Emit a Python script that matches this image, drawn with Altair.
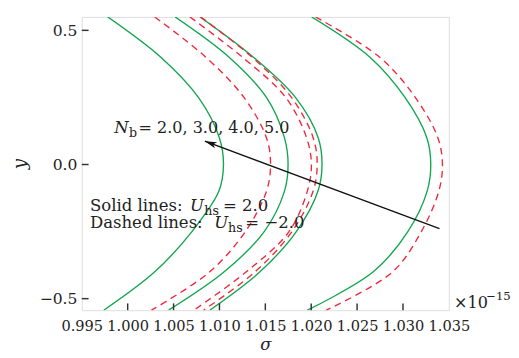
import altair as alt
import pandas as pd

# y sample levels (shared by all curves)
y_levels = [0.55, 0.4, 0.25, 0.1, 0.0, -0.1, -0.25, -0.4, -0.543]

# sigma (x 1e-15) for solid lines, U_hs = 2.0 (Nb = 5, 4, 3, 2 from left to right)
solid_nb5 = [0.99783, 1.00361, 1.00771, 1.00999, 1.01044, 1.00993, 1.00700, 1.00295, 0.99740]
solid_nb4 = [1.00517, 1.01105, 1.01512, 1.01708, 1.01748, 1.01708, 1.01488, 1.01052, 1.00446]
solid_nb3 = [1.00788, 1.01370, 1.01828, 1.02076, 1.02118, 1.02073, 1.01838, 1.01441, 1.00894]
solid_nb2 = [1.02005, 1.02640, 1.03022, 1.03260, 1.03303, 1.03263, 1.03053, 1.02676, 1.01959]

# sigma for dashed lines, U_hs = -2.0
dashed_nb5 = [1.00295, 1.00851, 1.01267, 1.01512, 1.01557, 1.01512, 1.01282, 1.00894, 1.00259]
dashed_nb4 = [1.00679, 1.01250, 1.01722, 1.01949, 1.02002, 1.01957, 1.01758, 1.01293, 1.00721]
dashed_nb3 = [1.00795, 1.01356, 1.01785, 1.02021, 1.02065, 1.02020, 1.01790, 1.01388, 1.00827]
dashed_nb2 = [1.02047, 1.02746, 1.03134, 1.03380, 1.03430, 1.03390, 1.03200, 1.02887, 1.02164]

x_ticks = [0.995, 1.000, 1.005, 1.010, 1.015, 1.020, 1.025, 1.030, 1.035]
y_ticks = [-0.5, 0.0, 0.5]

# arrow (tail -> head) in data units
arrow_x = [1.03398, 1.00841]
arrow_y = [-0.239, 0.087]

W, H = 378, 302
FONT = "DejaVu Serif"
GREEN = "#12a650"
RED = "#f0283c"
TXT = "#222222"

rows = []
for nb, s, d in [(2, solid_nb2, dashed_nb2), (3, solid_nb3, dashed_nb3),
                 (4, solid_nb4, dashed_nb4), (5, solid_nb5, dashed_nb5)]:
    for i, (yy, a, b) in enumerate(zip(y_levels, s, d)):
        rows.append({"Nb": nb, "U": 2.0, "i": i, "y": yy, "sigma": a})
        rows.append({"Nb": nb, "U": -2.0, "i": i, "y": yy, "sigma": b})
df = pd.DataFrame(rows)

xscale = alt.Scale(domain=[0.995, 1.035], nice=False, zero=False)
yscale = alt.Scale(domain=[-0.543, 0.55], nice=False, zero=False)

xaxis = alt.Axis(values=x_ticks, format=".3f", title="σ", grid=False, ticks=False, domain=False,
                 labelFont=FONT, labelFontSize=15, labelColor=TXT, labelPadding=9,
                 titleFont=FONT, titleFontSize=17, titleFontStyle="italic", titleFontWeight="normal",
                 titleColor=TXT, titlePadding=3, labelOverlap=False, labelFlush=False)
yaxis = alt.Axis(values=y_ticks, format=".1f", title="y", grid=False, ticks=False, domain=False,
                 labelFont=FONT, labelFontSize=16, labelColor=TXT, labelPadding=5,
                 titleFont=FONT, titleFontSize=19, titleFontStyle="italic", titleFontWeight="normal",
                 titleColor=TXT, titlePadding=10)

base = alt.Chart(df)
solid = base.transform_filter(alt.datum.U > 0).mark_line(
    color=GREEN, strokeWidth=1.4, interpolate="catmull-rom", clip=True
).encode(
    x=alt.X("sigma:Q", scale=xscale, axis=xaxis),
    y=alt.Y("y:Q", scale=yscale, axis=yaxis),
    detail="Nb:N",
    order="i:Q",
)
dashed = base.transform_filter(alt.datum.U < 0).mark_line(
    color=RED, strokeWidth=1.4, strokeDash=[7, 5], interpolate="catmull-rom", clip=True
).encode(
    x="sigma:Q", y="y:Q", detail="Nb:N", order="i:Q",
)

xt = alt.Chart(pd.DataFrame({"v": x_ticks[1:-1]})).mark_rule(color="#333", strokeWidth=1.5).encode(
    x="v:Q", y=alt.value(H), y2=alt.value(H - 7))
yt = alt.Chart(pd.DataFrame({"v": y_ticks})).mark_rule(color="#333", strokeWidth=1.5).encode(
    y="v:Q", x=alt.value(0), x2=alt.value(7))

arrow_df = pd.DataFrame({"x": [arrow_x[0]], "y": [arrow_y[0]], "x2": [arrow_x[1]], "y2": [arrow_y[1]]})
arrow_line = alt.Chart(arrow_df).mark_rule(color="#111", strokeWidth=1.3).encode(
    x="x:Q", y="y:Q", x2="x2:Q", y2="y2:Q")
arrow_head = alt.Chart(arrow_df).mark_point(
    shape="M0,0L0.55,2L0,1.5L-0.55,2Z", filled=True, color="#111", size=150, angle=290, opacity=1
).encode(x="x2:Q", y="y2:Q")


def label(text, px, py, size=17, italic=False):
    kw = dict(font=FONT, fontSize=size, color=TXT, align="left", baseline="alphabetic")
    if italic:
        kw["fontStyle"] = "italic"
    return alt.Chart(pd.DataFrame({"t": [text]})).mark_text(**kw).encode(
        x=alt.value(px), y=alt.value(py), text="t:N")


texts = [
    label("N", 33.4, 119.7, 17, True),
    label("b", 48.6, 123.7, 13),
    label("= 2.0, 3.0, 4.0, 5.0", 58.4, 119.7, 16.5),
    label("Solid lines:", 8.4, 199.7, 17),
    label("U", 111.4, 199.7, 17, True),
    label("hs", 126.2, 203.7, 13),
    label("= 2.0", 145.4, 199.7, 17),
    label("Dashed lines:", 8.4, 217.7, 17),
    label("U", 136.4, 217.7, 17, True),
    label("hs", 150.6, 221.7, 13),
    label("= −2.0", 168.4, 217.7, 17),
    label("×10", 383.4, 299.7, 16.5),
    label("−15", 416.4, 291.0, 12),
]

chart = alt.layer(solid, dashed, xt, yt, arrow_line, arrow_head, *texts).properties(
    width=W, height=H, padding={"left": 3, "top": 4, "right": 0, "bottom": 0}
).configure_view(stroke="#555555", strokeWidth=1.8).configure(background="white")

chart.save("out.html", embed_options={"renderer": "svg", "actions": False})
